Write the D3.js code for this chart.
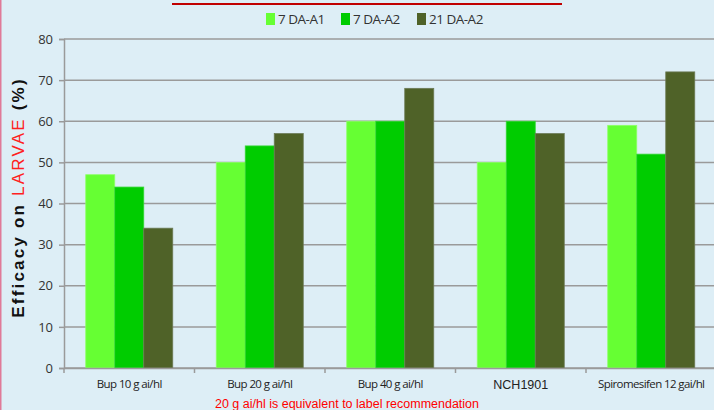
<!DOCTYPE html>
<html>
<head>
<meta charset="utf-8">
<script src="https://cdn.jsdelivr.net/npm/d3@7"></script>
<style>
  body { margin: 0; background: #ddeef6; }
  svg { display: block; }
</style>
</head>
<body>
<div class="canvas"></div>
<script>
// data
const categories = ['Bup 10 g ai/hl', 'Bup 20 g ai/hl', 'Bup 40 g ai/hl', 'NCH1901', 'Spiromesifen 12 gai/hl'];
const seriesNames = ['7 DA-A1', '7 DA-A2', '21 DA-A2'];
const da7a1 = [47, 50, 60, 50, 59];
const da7a2 = [44, 54, 60, 60, 52];
const da21a2 = [34, 57, 68, 57, 72];
const yTicks = [0, 10, 20, 30, 40, 50, 60, 70, 80];

const seriesValues = [da7a1, da7a2, da21a2];
const colors = ['#66ff33', '#00cc00', '#4f6228'];
const strokes = ['#8cff66', '#33d633', '#6b7a55'];

const dims = { width: 714, height: 410 };
const plot = { left: 64, right: 716.5, top: 39, bottom: 368 };

const svg = d3.select('.canvas')
    .append('svg')
    .attr('width', dims.width)
    .attr('height', dims.height);

svg.append('rect')
    .attr('width', dims.width)
    .attr('height', dims.height)
    .attr('fill', '#ddeef6');

// left pink edge
svg.append('line')
    .attr('x1', 0.75).attr('x2', 0.75)
    .attr('y1', 0).attr('y2', dims.height)
    .attr('stroke', '#e07a98')
    .attr('stroke-width', 1.5);

// title underline (title text itself is cut off above)
svg.append('line')
    .attr('x1', 172).attr('x2', 562)
    .attr('y1', 4).attr('y2', 4)
    .attr('stroke', '#c00000')
    .attr('stroke-width', 2);

const x0 = d3.scaleBand()
    .domain(categories)
    .range([plot.left, plot.right])
    .paddingInner(1 / 3)
    .paddingOuter(1 / 6);

const x1 = d3.scaleBand()
    .domain(seriesNames)
    .range([0, x0.bandwidth()]);

const y = d3.scaleLinear()
    .domain([0, 80])
    .range([plot.bottom, plot.top]);

// gridlines
svg.append('g')
    .selectAll('line')
    .data(yTicks)
    .enter()
    .append('line')
    .attr('x1', plot.left).attr('x2', dims.width)
    .attr('y1', d => y(d)).attr('y2', d => y(d))
    .attr('stroke', '#9a9a9a')
    .attr('stroke-width', 1.5);

// y axis
const yAxis = svg.append('g')
    .attr('transform', `translate(${plot.left},0)`)
    .call(d3.axisLeft(y).tickValues(yTicks).tickSize(5).tickPadding(6));
yAxis.select('.domain').attr('stroke', '#9a9a9a').attr('stroke-width', 1.5);
yAxis.selectAll('.tick line').attr('stroke', '#9a9a9a').attr('stroke-width', 1.5);
yAxis.selectAll('.tick text')
    .attr('fill', '#333')
    .style('font-family', 'Open Sans, sans-serif')
    .style('font-size', '13px');

// bars
const groups = svg.append('g')
    .selectAll('g')
    .data(categories)
    .enter()
    .append('g')
    .attr('transform', d => `translate(${x0(d)},0)`);

groups.selectAll('rect')
    .data((d, i) => seriesNames.map((s, j) => ({ s, j, v: seriesValues[j][i] })))
    .enter()
    .append('rect')
    .attr('x', d => x1(d.s))
    .attr('width', x1.bandwidth())
    .attr('y', d => y(d.v))
    .attr('height', d => y(0) - y(d.v))
    .attr('fill', d => colors[d.j])
    .attr('stroke', d => strokes[d.j])
    .attr('stroke-width', 0.8);

// x axis
const xAxis = svg.append('g')
    .attr('transform', `translate(0,${plot.bottom})`)
    .call(d3.axisBottom(x0).tickSize(0).tickPadding(12));
xAxis.select('.domain').attr('stroke', '#9a9a9a').attr('stroke-width', 1.5);
xAxis.selectAll('.tick text')
    .attr('fill', '#222')
    .style('font-family', 'Open Sans, sans-serif')
    .style('font-size', '11.5px')
    .style('letter-spacing', '-0.6px')
    .filter(d => d === 'NCH1901')
    .style('font-family', 'Liberation Sans, Arial, sans-serif')
    .style('font-size', '12.5px')
    .style('letter-spacing', '0px');

// category separator ticks
svg.append('g')
    .selectAll('line')
    .data(categories)
    .enter()
    .append('line')
    .attr('x1', d => x0(d) - x0.step() * x0.paddingOuter())
    .attr('x2', d => x0(d) - x0.step() * x0.paddingOuter())
    .attr('y1', plot.bottom).attr('y2', plot.bottom + 5)
    .attr('stroke', '#9a9a9a')
    .attr('stroke-width', 1.5);

// y title
const yTitle = svg.append('text')
    .attr('transform', `translate(24,${(72 + 321) / 2 + 1}) rotate(-90)`)
    .attr('text-anchor', 'middle')
    .style('font-family', 'Liberation Sans, Arial, sans-serif')
    .style('font-size', '17px')
    .style('letter-spacing', '2.2px')
    .style('font-weight', 'bold')
    .attr('fill', '#111');
yTitle.append('tspan').text('Efficacy on ');
yTitle.append('tspan').attr('fill', '#ff2020').style('font-weight', 'normal').text('LARVAE');
yTitle.append('tspan').text(' (%)');

// legend
const legendX = [266, 341, 417];
const legend = svg.append('g')
    .selectAll('g')
    .data(seriesNames)
    .enter()
    .append('g')
    .attr('transform', (d, i) => `translate(${legendX[i]},13)`);
legend.append('rect')
    .attr('width', 9).attr('height', 12)
    .attr('fill', (d, i) => colors[i]);
legend.append('text')
    .attr('x', 12).attr('y', 11)
    .attr('fill', '#333')
    .style('font-family', 'Open Sans, sans-serif')
    .style('font-size', '13.5px')
    .style('letter-spacing', '-0.5px')
    .text(d => d);

// footnote
svg.append('text')
    .attr('x', 347).attr('y', 408)
    .attr('text-anchor', 'middle')
    .attr('fill', '#ff0000')
    .style('font-family', 'Liberation Sans, Arial, sans-serif')
    .style('font-size', '12.5px')
    .text('20 g ai/hl is equivalent to label recommendation');
</script>
</body>
</html>
